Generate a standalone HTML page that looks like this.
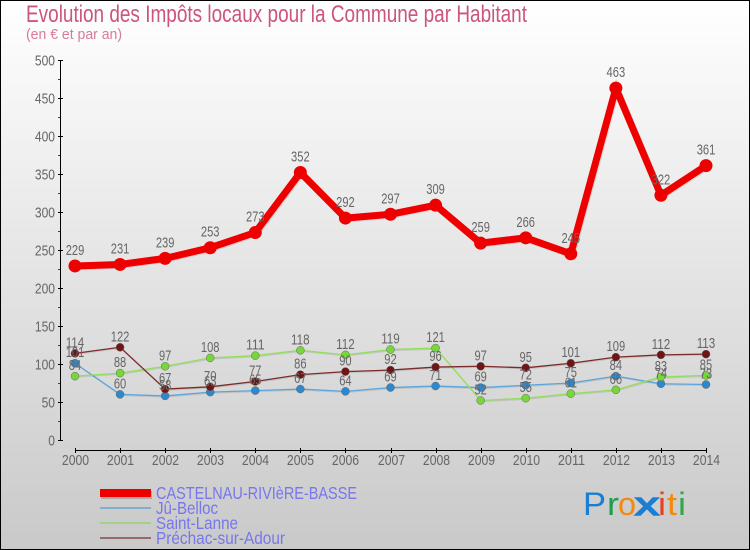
<!DOCTYPE html>
<html lang="fr">
<head>
<meta charset="utf-8">
<title>Evolution des Impôts locaux</title>
<style>
html,body{margin:0;padding:0;width:750px;height:550px;overflow:hidden;background:#fff}
svg{display:block}
text{font-family:"Liberation Sans",sans-serif}
</style>
</head>
<body>
<svg id="chart" xmlns="http://www.w3.org/2000/svg" width="750" height="550" viewBox="0 0 750 550">
  <defs>
    <linearGradient id="bg" x1="0" y1="0" x2="0" y2="1">
      <stop offset="0" stop-color="#ffffff"/>
      <stop offset="1" stop-color="#c9c9c9"/>
    </linearGradient>
  </defs>
  <rect x="0.5" y="0.5" width="749" height="549" fill="url(#bg)" stroke="#000" stroke-width="1"/>
  <text x="26" y="22" font-size="24" fill="#cc5580" textLength="501" lengthAdjust="spacingAndGlyphs">Evolution des Impôts locaux pour la Commune par Habitant</text>
  <text x="26" y="39" font-size="15" fill="#d87a9e" textLength="96" lengthAdjust="spacingAndGlyphs">(en € et par an)</text>
  <g id="axes"></g>
  <g id="series"></g>
  <g id="labels"></g>

  <g>
    <g>
      <rect x="101" y="491" width="51" height="8" fill="#888" opacity="0.5"/>
      <rect x="100" y="489" width="51" height="8" fill="#ee0000"/>
      <text x="156" y="499" font-size="17.5" fill="#7676ee" textLength="201" lengthAdjust="spacingAndGlyphs">CASTELNAU-RIVIèRE-BASSE</text>
    </g>
    <g>
      <rect x="100" y="507" width="51" height="2" fill="#7fb0cc"/>
      <text x="156" y="514" font-size="17.5" fill="#7676ee" textLength="62" lengthAdjust="spacingAndGlyphs">Jû-Belloc</text>
    </g>
    <g>
      <rect x="100" y="522" width="51" height="2" fill="#a4d08a"/>
      <text x="156" y="529" font-size="17.5" fill="#7676ee" textLength="82" lengthAdjust="spacingAndGlyphs">Saint-Lanne</text>
    </g>
    <g>
      <rect x="100" y="537" width="51" height="2" fill="#946a6a"/>
      <text x="156" y="544" font-size="17.5" fill="#7676ee" textLength="129" lengthAdjust="spacingAndGlyphs">Préchac-sur-Adour</text>
    </g>
  </g>

  <g font-size="32">
    <text x="583" y="515" fill="#1a7fd4" textLength="23" lengthAdjust="spacingAndGlyphs">P</text>
    <text x="607" y="515" fill="#1f9e50" textLength="12" lengthAdjust="spacingAndGlyphs">r</text>
    <text x="618" y="515" fill="#f28a10" textLength="18" lengthAdjust="spacingAndGlyphs">o</text>
    <text x="635" y="515" fill="#1a7fd4" stroke="#1a7fd4" stroke-width="1.5" textLength="24" lengthAdjust="spacingAndGlyphs">x</text>
    <text x="658" y="515" fill="#e8401c" textLength="8" lengthAdjust="spacingAndGlyphs">i</text>
    <text x="667" y="515" fill="#f28a10" textLength="10" lengthAdjust="spacingAndGlyphs">t</text>
    <text x="678" y="515" fill="#2ea84a" textLength="8" lengthAdjust="spacingAndGlyphs">i</text>
  </g>
</svg>
<script>
var years = ['2000','2001','2002','2003','2004','2005','2006','2007','2008','2009','2010','2011','2012','2013','2014'];
var yTicks = [0, 50, 100, 150, 200, 250, 300, 350, 400, 450, 500];
var yMinorTicks = [25, 75, 125, 175, 225, 275, 325, 375, 425, 475];
var castelnau = [229, 231, 239, 253, 273, 352, 292, 297, 309, 259, 266, 245, 463, 322, 361];
var juBelloc = [101, 60, 58, 63, 65, 67, 64, 69, 71, 69, 72, 75, 84, 74, 73];
var saintLanne = [84, 88, 97, 108, 111, 118, 112, 119, 121, 52, 55, 61, 66, 83, 85];
var prechac = [114, 122, 67, 70, 77, 86, 90, 92, 96, 97, 95, 101, 109, 112, 113];

var NS = 'http://www.w3.org/2000/svg';
var axesLayer = document.getElementById('axes');
var seriesLayer = document.getElementById('series');
var labelsLayer = document.getElementById('labels');

function xScale(i) { return 75 + i * (631 / (years.length - 1)); }
function yScale(v) { return 440 - v * 0.76; }

function make(parent, tag, attrs) {
  var el = document.createElementNS(NS, tag);
  for (var k in attrs) el.setAttribute(k, attrs[k]);
  parent.appendChild(el);
  return el;
}

function makeLine(parent, x1, y1, x2, y2, color, width) {
  return make(parent, 'line', { x1: x1, y1: y1, x2: x2, y2: y2, stroke: color, 'stroke-width': width });
}

function makeText(parent, x, y, str, anchor, size, perChar, color) {
  var t = make(parent, 'text', {
    x: x, y: y, 'text-anchor': anchor, 'font-size': size, fill: color,
    textLength: str.length * perChar, lengthAdjust: 'spacingAndGlyphs'
  });
  t.textContent = str;
  return t;
}

var yAxisLine = makeLine(axesLayer, 60.5, yScale(500), 60.5, yScale(0), '#000', 1);



var xAxisLine = makeLine(axesLayer, xScale(0), 450.5, xScale(years.length - 1), 450.5, '#000', 1);



yTicks.forEach(function (v) {
  var y = Math.round(yScale(v)) + 0.5;
  var tick = makeLine(axesLayer, 58, y, 63, y, '#000', 1);
  
  
  var label = makeText(axesLayer, 55, y + 5, String(v), 'end', 14.5, 6.7, '#666666');
  
  
});

yMinorTicks.forEach(function (v) {
  var y = Math.round(yScale(v)) + 0.5;
  var tick = makeLine(axesLayer, 58, y, 60, y, '#dd0000', 1);
  
  
});

years.forEach(function (yr, i) {
  var x = Math.round(xScale(i)) + 0.5;
  var tick = makeLine(axesLayer, x, 448, x, 453, '#000', 1);
  
  
  var label = makeText(axesLayer, x, 465, yr, 'middle', 14.5, 6.8, '#666666');
  
  
});

function drawSeries(name, values, lineColor, markerColor, width, radius, labelGap) {
  var pts = values.map(function (v, i) { return xScale(i) + ',' + yScale(v); }).join(' ');
  var shadowPts = values.map(function (v, i) { return (xScale(i) + 1) + ',' + (yScale(v) + 1); }).join(' ');

  var shadow = make(seriesLayer, 'polyline', { points: shadowPts, fill: 'none', stroke: '#000', 'stroke-opacity': 0.1, 'stroke-width': width });
  
  

  var line = make(seriesLayer, 'polyline', { points: pts, fill: 'none', stroke: lineColor, 'stroke-width': width, 'stroke-linejoin': 'round' });
  
  

  values.forEach(function (v, i) {
    var dot = make(seriesLayer, 'circle', {
      cx: xScale(i), cy: yScale(v), r: radius, fill: markerColor,
      stroke: radius > 5 ? 'none' : '#666', 'stroke-width': radius > 5 ? 0 : 0.5
    });
    
    

    var label = makeText(labelsLayer, xScale(i), yScale(v) - labelGap, String(v), 'middle', 14.5, 6.2, '#666666');
    
    
  });
}

drawSeries('ju-belloc', juBelloc, '#5aa6dc', '#2f88cc', 1.3, 4, 6);
drawSeries('saint-lanne', saintLanne, '#92e05a', '#76d63a', 1.3, 4, 6);
drawSeries('prechac', prechac, '#7d2a2a', '#701515', 1.3, 4, 6);
drawSeries('castelnau', castelnau, '#ee0000', '#ee0000', 7, 6.5, 11);
</script>
</body>
</html>
